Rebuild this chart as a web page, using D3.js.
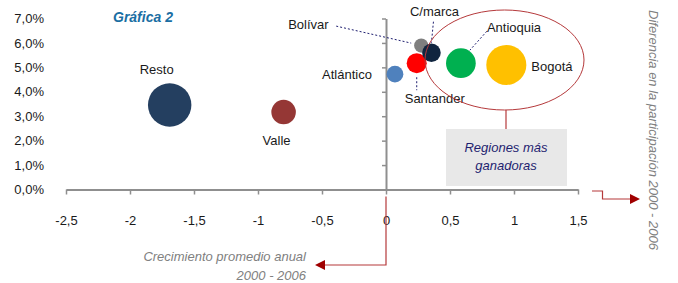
<!DOCTYPE html>
<html>
<head>
<meta charset="utf-8">
<script src="https://cdn.jsdelivr.net/npm/d3@7"></script>
<style>
  body { margin: 0; background: #fff; }
  svg { display: block; font-family: "Liberation Sans", Arial, sans-serif; }
</style>
</head>
<body>
<svg id="chart" width="678" height="283"></svg>
<script>
// regions, growth (x), participation change in % (y), bubble size
const regions = ["Resto", "Valle", "Atlántico", "Bolívar", "Santander", "C/marca", "Antioquia", "Bogotá"];
const growth = [-1.69, -0.80, 0.07, 0.275, 0.24, 0.355, 0.585, 0.94];
const partDiff = [3.46, 3.17, 4.72, 5.89, 5.17, 5.60, 5.17, 5.10];
const sizes = [47, 15, 7, 5, 10, 8.6, 22, 40];
const colors = ["#243f60", "#953735", "#4f81bd", "#7f7f7f", "#ff0000", "#10253f", "#00b050", "#ffc000"];

const xTicks = [-2.5, -2, -1.5, -1, -0.5, 0, 0.5, 1, 1.5];
const yTicks = [0, 1, 2, 3, 4, 5, 6, 7];

const svg = d3.select('#chart');
const locale = d3.formatLocale({decimal: ",", thousands: ".", grouping: [3], currency: ["$", ""], minus: "-"});
const fmtX = locale.format("~g");
const fmtY = d => locale.format(".1f")(d) + "%";

const x = d3.scaleLinear().domain([-2.5, 1.5]).range([66, 578]);
const y = d3.scaleLinear().domain([0, 7]).range([189.5, 18.5]);
const r = d3.scaleSqrt().domain([0, 50]).range([0, 22.4]);

const axisColor = "#8f8f8f";
const red = "#b5393b";
const navy = "#1f1f70";

// x axis, crossing at y = 0
const gx = svg.append('g')
    .attr('transform', `translate(0,${y(0)})`)
    .call(d3.axisBottom(x).tickValues(xTicks).tickFormat(fmtX)
        .tickSizeInner(5).tickSizeOuter(0).tickPadding(21));
// y axis, crossing at x = 0, labels pushed to the left edge
const gy = svg.append('g')
    .attr('transform', `translate(${x(0)},0)`)
    .call(d3.axisLeft(y).tickValues(yTicks).tickFormat(fmtY)
        .tickSizeInner(4).tickSizeOuter(0).tickPadding(x(0) - 44 - 4));

[gx, gy].forEach(g => {
  g.select('.domain').attr('stroke', axisColor).attr('stroke-width', 2);
  g.selectAll('.tick line').attr('stroke', axisColor).attr('stroke-width', 1.5);
  g.selectAll('.tick text').attr('fill', '#1a1a1a')
      .style('font-size', '13px').style('font-family', '"Liberation Sans", Arial, sans-serif');
});

// bubbles
const data = regions.map((name, i) => ({name, gx: growth[i], py: partDiff[i], s: sizes[i], c: colors[i]}));
svg.append('g').selectAll('circle')
    .data(data)
    .enter()
    .append('circle')
    .attr('cx', d => x(d.gx))
    .attr('cy', d => y(d.py))
    .attr('r', d => r(d.s))
    .attr('fill', d => d.c);

// labels, offsets from bubble centres
const labelPos = {
  "Resto":     {dx: -13, dy: -31, anchor: "middle"},
  "Valle":     {dx: -7,  dy: 33,  anchor: "middle"},
  "Atlántico": {dx: -23, dy: 4.5, anchor: "end"},
  "Santander": {dx: 18,  dy: 40,  anchor: "middle"},
  "C/marca":   {dx: 3,   dy: -37, anchor: "middle"},
  "Bolívar":   {dx: -133, dy: -16.5, anchor: "start"},
  "Antioquia": {dx: 26,  dy: -31, anchor: "start"},
  "Bogotá":    {dx: 25,  dy: 6.5, anchor: "start"}
};
svg.append('g').selectAll('text')
    .data(data)
    .enter()
    .append('text')
    .attr('x', d => x(d.gx) + labelPos[d.name].dx)
    .attr('y', d => y(d.py) + labelPos[d.name].dy)
    .attr('text-anchor', d => labelPos[d.name].anchor)
    .attr('fill', '#1a1a1a')
    .style('font-size', '13px')
    .text(d => d.name);

// dashed leader lines
const leaders = [
  {name: "Bolívar",   x1: -85, y1: -19.5, x2: -10, y2: -2.5},
  {name: "C/marca",   x1: 2,   y1: -31, x2: 0,  y2: -10},
  {name: "Santander", x1: 0,   y1: 14,  x2: 0,  y2: 27},
  {name: "Antioquia", x1: 26,  y1: -32, x2: 9,  y2: -13}
];
svg.append('g').selectAll('line')
    .data(leaders)
    .enter()
    .append('line')
    .attr('x1', d => { const p = data.find(e => e.name === d.name); return x(p.gx) + d.x1; })
    .attr('y1', d => { const p = data.find(e => e.name === d.name); return y(p.py) + d.y1; })
    .attr('x2', d => { const p = data.find(e => e.name === d.name); return x(p.gx) + d.x2; })
    .attr('y2', d => { const p = data.find(e => e.name === d.name); return y(p.py) + d.y2; })
    .attr('stroke', navy)
    .attr('stroke-width', 1)
    .attr('stroke-dasharray', '2,2');

// ellipse round the winning regions, with its callout box
svg.append('ellipse')
    .attr('cx', 504.5).attr('cy', 60).attr('rx', 79.5).attr('ry', 50)
    .attr('fill', 'none').attr('stroke', red).attr('stroke-width', 1);
svg.append('line')
    .attr('x1', 506).attr('y1', 110).attr('x2', 506).attr('y2', 129)
    .attr('stroke', red).attr('stroke-width', 1.2);
svg.append('rect')
    .attr('x', 446).attr('y', 129).attr('width', 121).attr('height', 57)
    .attr('fill', '#e8e8e8');
svg.append('text')
    .attr('x', 506).attr('y', 151.5)
    .attr('text-anchor', 'middle').attr('fill', navy)
    .style('font-size', '13px').style('font-style', 'italic')
    .text('Regiones más');
svg.append('text')
    .attr('x', 506).attr('y', 170)
    .attr('text-anchor', 'middle').attr('fill', navy)
    .style('font-size', '13px').style('font-style', 'italic')
    .text('ganadoras');

// title
svg.append('text')
    .attr('x', 113).attr('y', 22)
    .attr('fill', '#1a6ea3')
    .style('font-size', '14px').style('font-weight', 'bold').style('font-style', 'italic')
    .text('Gráfica 2');

// axis titles
svg.append('text')
    .attr('transform', 'translate(649,10) rotate(90)')
    .attr('fill', '#808080')
    .style('font-size', '13px').style('font-style', 'italic')
    .text('Diferencia en la participación 2000 - 2006');
svg.append('text')
    .attr('x', 306).attr('y', 260.5)
    .attr('text-anchor', 'end').attr('fill', '#808080')
    .style('font-size', '13px').style('font-style', 'italic')
    .text('Crecimiento promedio anual');
svg.append('text')
    .attr('x', 306).attr('y', 279.5)
    .attr('text-anchor', 'end').attr('fill', '#808080')
    .style('font-size', '13px').style('font-style', 'italic')
    .text('2000 - 2006');

// arrows
svg.append('path')
    .attr('d', `M592,191 H602.5 V199 H631`)
    .attr('fill', 'none').attr('stroke', red).attr('stroke-width', 1.2);
svg.append('path')
    .attr('d', 'M630,194 L640,199 L630,204 Z')
    .attr('fill', '#a00000');
svg.append('path')
    .attr('d', `M${x(0)},196.5 V265 H324`)
    .attr('fill', 'none').attr('stroke', red).attr('stroke-width', 1.2);
svg.append('path')
    .attr('d', 'M325,260 L315,265 L325,270 Z')
    .attr('fill', '#a00000');
</script>
</body>
</html>
